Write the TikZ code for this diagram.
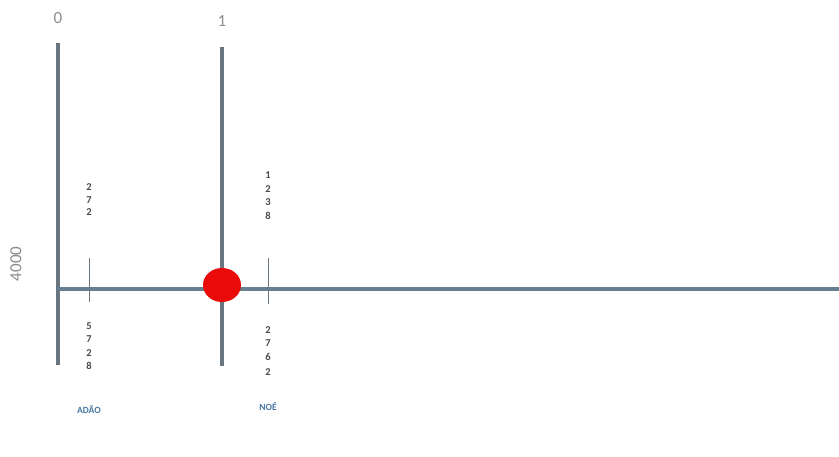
\documentclass[tikz,border=0pt]{standalone}
\usepackage{fontspec}
\setmainfont{Carlito}
\usetikzlibrary{shapes.geometric}
\definecolor{axis}{RGB}{100,128,145}
\definecolor{vert}{RGB}{105,118,128}
\definecolor{lbl}{RGB}{140,140,140}
\definecolor{dig}{RGB}{70,75,80}
\definecolor{nm}{RGB}{70,120,165}
\definecolor{dotc}{RGB}{235,10,10}
\begin{document}
\begin{tikzpicture}[x=1pt,y=-1pt,
  axisline/.style={draw=axis,line width=3.4pt},
  vline/.style={draw=vert,line width=3.2pt},
  tickline/.style={draw=vert,line width=0.7pt},
  toplbl/.style={text=lbl,font=\fontsize{17}{17}\selectfont,inner sep=0pt},
  digit/.style={text=dig,font=\bfseries\fontsize{10.5}{10.5}\selectfont,inner sep=0pt},
  whoname/.style={text=nm,font=\bfseries\fontsize{9.5}{9.5}\selectfont,inner sep=0pt}]
\useasboundingbox (0,0) rectangle (839,457);
\fill[white] (0,0) rectangle (839,457);
% axis coordinates
\coordinate (v0t) at (58,43);
\coordinate (v0b) at (58,365);
\coordinate (v1t) at (222,47);
\coordinate (v1b) at (222,366);
\coordinate (hl) at (58,289);
\coordinate (hr) at (839,289);
\coordinate (t0t) at (89,258);
\coordinate (t0b) at (89,302);
\coordinate (t1t) at (268,258);
\coordinate (t1b) at (268,304);
\draw[vline] (v0t) -- (v0b);
\draw[vline] (v1t) -- (v1b);
\draw[axisline] (hl) -- (hr);
\draw[tickline] (t0t) -- (t0b);
\draw[tickline] (t1t) -- (t1b);
\node[fill=dotc,draw=none,ellipse,minimum width=38pt,minimum height=34pt,inner sep=0pt] (dotA) at (222,285) {};
% labels
\node[toplbl] (l0) at (58,18) {0};
\node[toplbl] (l1) at (222,21) {1};
\node[text=lbl,font=\fontsize{17}{17}\selectfont,inner sep=0pt,rotate=90] (l4000) at (16,264) {4000};
% left digits
\node[digit] (a1) at (89,187) {2};
\node[digit] (a2) at (89,200) {7};
\node[digit] (a3) at (89,212) {2};
\node[digit] (b1) at (89,326) {5};
\node[digit] (b2) at (89,339) {7};
\node[digit] (b3) at (89,353) {2};
\node[digit] (b4) at (89,366) {8};
\node[whoname] (adao) at (89,410) {ADÃO};
% right digits
\node[digit] (c1) at (268,175) {1};
\node[digit] (c2) at (268,189) {2};
\node[digit] (c3) at (268,202) {3};
\node[digit] (c4) at (268,216) {8};
\node[digit] (d1) at (268,330) {2};
\node[digit] (d2) at (268,343) {7};
\node[digit] (d3) at (268,357) {6};
\node[digit] (d4) at (268,372) {2};
\node[whoname] (noe) at (268,407) {NOÉ};
\end{tikzpicture}
\end{document}
